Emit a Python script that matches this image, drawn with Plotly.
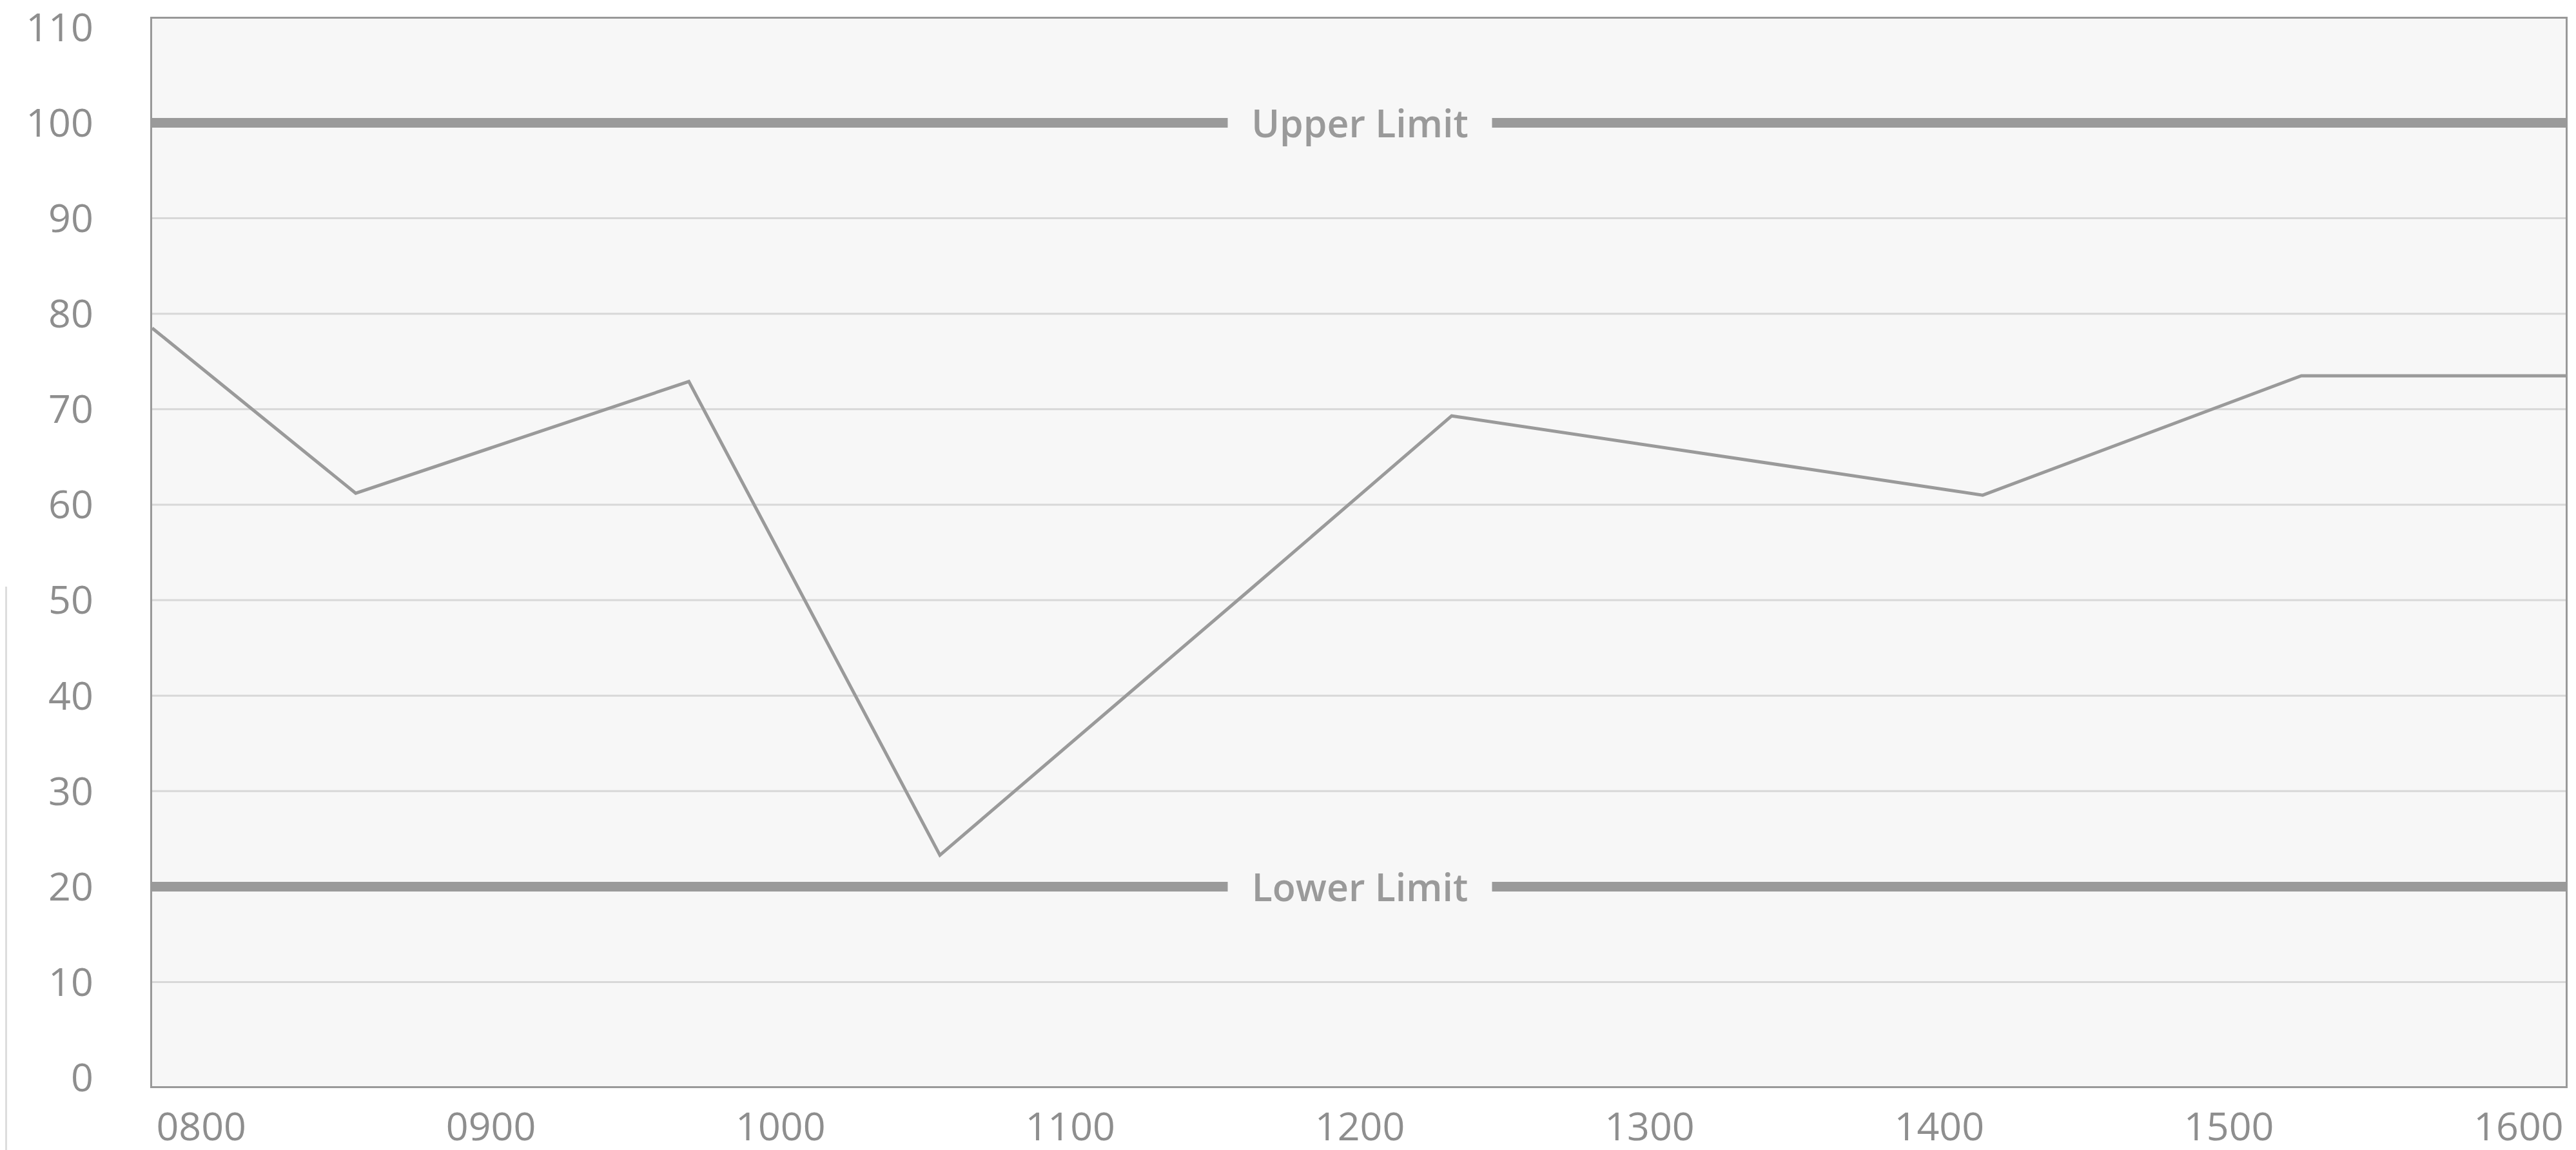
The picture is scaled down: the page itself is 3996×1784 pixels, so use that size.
import plotly.graph_objects as go

DAY = "2024-01-01 "

# readings (time of day, value)
times = ["07:49:50", "08:32", "09:41", "10:33", "11:37", "12:19", "14:09", "15:15", "16:09:45"]
values = [78.5, 61.2, 72.9, 23.3, 51.0, 69.3, 61.0, 73.5, 73.5]

# limits
limit_names = ["Upper Limit", "Lower Limit"]
limit_values = [100, 20]
label_time = "12:00"

x_range = ["07:49:50", "16:09:45"]
y_range = [-0.9, 110.9]
y_ticks = list(range(0, 111, 10))
grid_lines = list(range(10, 100, 10))

GREY = "#9a9a9a"
TEXT = "#8e8e8e"
BG = "#f7f7f7"


def stamp(t):
    return DAY + t


fig = go.Figure()

for g in grid_lines:
    fig.add_hline(y=g, line=dict(color="#d8d8d8", width=3), layer="below")

for name, val in zip(limit_names, limit_values):
    fig.add_trace(
        go.Scatter(
            x=[stamp(x_range[0]), stamp(x_range[1])],
            y=[val, val],
            mode="lines",
            line=dict(color=GREY, width=15),
            hoverinfo="skip",
            showlegend=False,
        )
    )
    fig.add_annotation(
        x=stamp(label_time),
        y=val,
        xref="x",
        yref="y",
        text=name,
        showarrow=False,
        bgcolor=BG,
        borderpad=0,
        width=409,
        height=80,
        font=dict(family="Open Sans", size=59, color=GREY, weight=600),
    )

fig.add_trace(
    go.Scatter(
        x=[stamp(t) for t in times],
        y=values,
        mode="lines",
        line=dict(color=GREY, width=5),
        showlegend=False,
    )
)

# thin strip at the page's left edge
fig.add_shape(
    type="rect",
    xref="paper",
    yref="paper",
    x0=-0.0609,
    x1=-0.0601,
    y0=-0.06,
    y1=0.468,
    fillcolor="#dddddd",
    line=dict(width=0),
    layer="above",
)

# the page body adds 8px around the figure
fig.update_layout(
    width=3988,
    height=1776,
    autosize=False,
    margin=dict(l=228, r=16, t=21, b=99),
    paper_bgcolor="white",
    plot_bgcolor=BG,
    font=dict(family="Open Sans", size=61, color=TEXT),
    showlegend=False,
)

fig.update_xaxes(
    type="date",
    range=[stamp(x_range[0]), stamp(x_range[1])],
    tick0=stamp("08:00"),
    dtick=3600000,
    tickformat="%H%M",
    showgrid=False,
    zeroline=False,
    showline=True,
    mirror=True,
    linecolor="#999999",
    linewidth=3,
    ticks="",
    ticklabelstandoff=8,
    ticklabeloverflow="allow",
    automargin=False,
    tickfont=dict(size=61, color=TEXT),
)

fig.update_yaxes(
    range=y_range,
    tickmode="array",
    tickvals=y_ticks,
    showgrid=False,
    zeroline=False,
    showline=True,
    mirror=True,
    linecolor="#999999",
    linewidth=3,
    ticks="",
    ticklabelstandoff=76,
    ticklabeloverflow="allow",
    automargin=False,
    tickfont=dict(size=61, color=TEXT),
)

fig.write_html("out.html")
